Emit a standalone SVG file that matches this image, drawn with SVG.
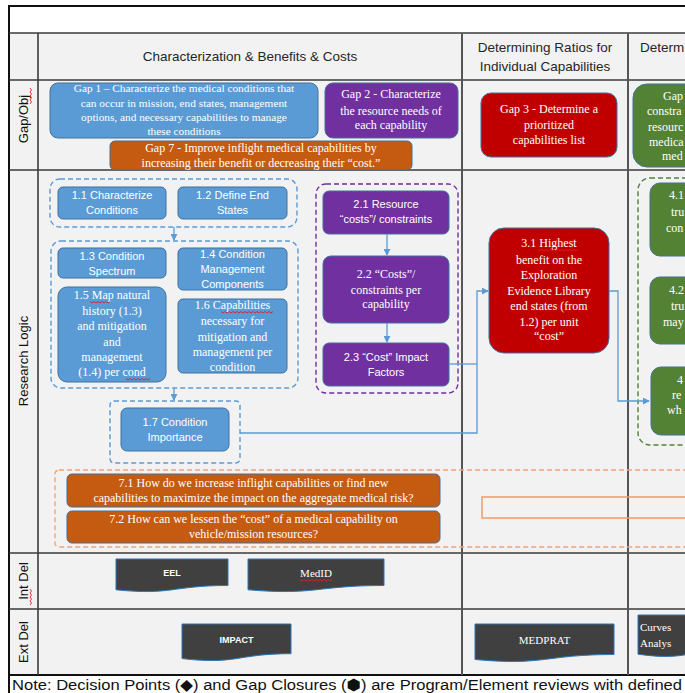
<svg xmlns="http://www.w3.org/2000/svg" width="685" height="693" viewBox="0 0 685 693">
<style>
.grid{stroke:#3a3a3a;stroke-width:1.6;fill:none}
.hdr{font-family:"Liberation Sans",Arial,sans-serif;font-size:13.5px;fill:#262626}
.lbl{font-family:"Liberation Sans",Arial,sans-serif;font-size:13px;fill:#111}
.sw{font-family:"Liberation Sans",Arial,sans-serif;font-size:11px;fill:#fff;text-anchor:middle}
.rw{font-family:"Liberation Serif","Times New Roman",serif;font-size:12px;fill:#fff;text-anchor:middle}
.rw11{font-family:"Liberation Serif","Times New Roman",serif;font-size:11.3px;fill:#fff;text-anchor:middle}
.rws{font-family:"Liberation Serif","Times New Roman",serif;font-size:12px;fill:#fff}
.blue{fill:#5b9bd5;stroke:#41719c;stroke-width:1}
.purple{fill:#7030a0;stroke:#41719c;stroke-width:1}
.red{fill:#c00000;stroke:#41719c;stroke-width:1}
.green{fill:#548235;stroke:#41719c;stroke-width:1}
.orange{fill:#c55a11;stroke:#41719c;stroke-width:1}
.doc{fill:#404040;stroke:#2e75b6;stroke-width:1}
.dsw{font-family:"Liberation Sans",Arial,sans-serif;font-size:9px;font-weight:bold;fill:#fff;text-anchor:middle}
.dsr{font-family:"Liberation Serif","Times New Roman",serif;font-size:11px;fill:#fff}
.dash{fill:none;stroke-width:1.4;stroke-dasharray:5 3}
.conn{fill:none;stroke:#5b9bd5;stroke-width:1.3}
.sq{fill:none;stroke:#e02020;stroke-width:0.9}
</style>
<defs>
<marker id="arr" viewBox="0 0 8 8" refX="7" refY="4" markerWidth="7" markerHeight="7" markerUnits="userSpaceOnUse" orient="auto">
<path d="M0,0 L8,4 L0,8 Z" fill="#5b9bd5"/>
</marker>
</defs>

<!-- table background -->
<rect x="0" y="0" width="685" height="693" fill="#ffffff"/>
<rect x="9" y="33" width="680" height="642" fill="#f2f2f2"/>
<g id="table">
<rect x="9" y="6" width="690" height="700" class="grid" style="stroke:#111;stroke-width:2"/>
<line x1="9" y1="33" x2="685" y2="33" class="grid"/>
<line x1="9" y1="80" x2="685" y2="80" class="grid"/>
<line x1="9" y1="170" x2="685" y2="170" class="grid"/>
<line x1="9" y1="553" x2="685" y2="553" class="grid"/>
<line x1="9" y1="609" x2="685" y2="609" class="grid"/>
<line x1="9" y1="675" x2="685" y2="675" class="grid" style="stroke:#111;stroke-width:2"/>
<line x1="38" y1="33" x2="38" y2="675" class="grid"/>
<line x1="462" y1="33" x2="462" y2="675" class="grid" style="stroke:#555;stroke-width:2"/>
<line x1="628" y1="33" x2="628" y2="675" class="grid" style="stroke:#555;stroke-width:2"/>
</g>

<g id="headers">
<text class="hdr" x="250" y="61" text-anchor="middle">Characterization &amp; Benefits &amp; Costs</text>
<text class="hdr" x="545" y="52" text-anchor="middle">Determining Ratios for</text>
<text class="hdr" x="545" y="71" text-anchor="middle">Individual Capabilities</text>
<text class="hdr" x="640" y="52">Determ</text>
</g>

<g id="row-labels">
<text class="lbl" transform="rotate(-90 23 119)" x="23" y="119" text-anchor="middle" dominant-baseline="central">Gap/Obj</text>
<text class="lbl" transform="rotate(-90 23 361)" x="23" y="361" text-anchor="middle" dominant-baseline="central">Research Logic</text>
<text class="lbl" transform="rotate(-90 23 581)" x="23" y="581" text-anchor="middle" dominant-baseline="central">Int Del</text>
<text class="lbl" transform="rotate(-90 23 642)" x="23" y="642" text-anchor="middle" dominant-baseline="central">Ext Del</text>
</g>

<!-- Gap row -->
<g id="gap1">
<rect x="50" y="83" width="268" height="55" rx="8" class="blue"/>
<text class="rw11" x="184" y="92">Gap 1 – Characterize the medical conditions that</text>
<text class="rw11" x="184" y="107">can occur in mission, end states, management</text>
<text class="rw11" x="184" y="121">options, and necessary capabilities to manage</text>
<text class="rw11" x="184" y="135">these conditions</text>
</g>
<g id="gap2">
<rect x="325" y="83" width="133" height="55" rx="8" class="purple"/>
<text class="rw" x="391" y="98">Gap 2 - Characterize</text>
<text class="rw" x="391" y="115">the resource needs of</text>
<text class="rw" x="391" y="129">each capability</text>
</g>
<g id="gap7">
<rect x="110" y="141" width="302" height="29" rx="5" class="orange"/>
<text class="rw" x="261" y="152">Gap 7 - Improve inflight medical capabilities by</text>
<text class="rw" x="261" y="167">increasing their benefit or decreasing their “cost.”</text>
</g>
<g id="gap3">
<rect x="481" y="93" width="136" height="64" rx="10" class="red"/>
<text class="rw" x="549" y="113">Gap 3 - Determine a</text>
<text class="rw" x="549" y="129">prioritized</text>
<text class="rw" x="549" y="144">capabilities list</text>
</g>
<g id="gap4">
<rect x="633" y="84" width="120" height="83" rx="14" class="green"/>
<text class="rws" x="663" y="100">Gap</text>
<text class="rws" x="647" y="115">constra</text>
<text class="rws" x="648" y="131">resourc</text>
<text class="rws" x="649" y="146">medica</text>
<text class="rws" x="662" y="160">med</text>
</g>

<!-- Research logic containers -->
<g id="group-1a"><rect x="50" y="179" width="247" height="48" rx="10" class="dash" stroke="#5b9bd5"/></g>
<g id="group-1b"><rect x="51" y="241" width="247" height="147" rx="10" class="dash" stroke="#5b9bd5"/></g>
<g id="group-1c"><rect x="110" y="401" width="130" height="62" rx="4" class="dash" stroke="#5b9bd5"/></g>
<g id="group-2"><rect x="316" y="184" width="142" height="209" rx="10" class="dash" stroke="#7030a0"/></g>
<g id="group-4"><rect x="638" y="178" width="80" height="267" rx="12" class="dash" stroke="#548235"/></g>
<g id="group-7"><rect x="55" y="470" width="650" height="77" rx="4" class="dash" stroke="#f4a574"/></g>

<g id="n11">
<rect x="58" y="187" width="108" height="32" rx="5" class="blue"/>
<text class="sw" x="112" y="199">1.1 Characterize</text>
<text class="sw" x="112" y="214">Conditions</text>
</g>
<g id="n12">
<rect x="178" y="187" width="109" height="32" rx="5" class="blue"/>
<text class="sw" x="232.5" y="199">1.2 Define End</text>
<text class="sw" x="232.5" y="214">States</text>
</g>
<g id="n13">
<rect x="58" y="248" width="108" height="30" rx="5" class="blue"/>
<text class="sw" x="112" y="259.5">1.3 Condition</text>
<text class="sw" x="112" y="274.5">Spectrum</text>
</g>
<g id="n14">
<rect x="178" y="248" width="109" height="42" rx="5" class="blue"/>
<text class="sw" x="232.5" y="258">1.4 Condition</text>
<text class="sw" x="232.5" y="273">Management</text>
<text class="sw" x="232.5" y="288">Components</text>
</g>
<g id="n15">
<rect x="58" y="287" width="108" height="95" rx="9" class="blue"/>
<text class="rw" x="112" y="299">1.5 Map natural</text>
<text class="rw" x="112" y="315">history (1.3)</text>
<text class="rw" x="112" y="330">and mitigation</text>
<text class="rw" x="112" y="346">and</text>
<text class="rw" x="112" y="361">management</text>
<text class="rw" x="112" y="376">(1.4) per cond</text>
</g>
<g id="n16">
<rect x="178" y="299" width="109" height="74" rx="5" class="blue"/>
<text class="rw" x="232.5" y="309">1.6 Capabilities</text>
<text class="rw" x="232.5" y="325">necessary for</text>
<text class="rw" x="232.5" y="341">mitigation and</text>
<text class="rw" x="232.5" y="356">management per</text>
<text class="rw" x="232.5" y="371">condition</text>
</g>
<g id="n17">
<rect x="121" y="408" width="108" height="43" rx="6" class="blue"/>
<text class="sw" x="175" y="426">1.7 Condition</text>
<text class="sw" x="175" y="441">Importance</text>
</g>
<g id="n21">
<rect x="323" y="191" width="126" height="43" rx="6" class="purple"/>
<text class="sw" x="386" y="208">2.1 Resource</text>
<text class="sw" x="386" y="223">“costs”/ constraints</text>
</g>
<g id="n22">
<rect x="323" y="256" width="126" height="67" rx="8" class="purple"/>
<text class="rw" x="386" y="278">2.2 “Costs”/</text>
<text class="rw" x="386" y="294">constraints per</text>
<text class="rw" x="386" y="308">capability</text>
</g>
<g id="n23">
<rect x="323" y="343" width="126" height="43" rx="6" class="purple"/>
<text class="sw" x="386" y="361">2.3 “Cost” Impact</text>
<text class="sw" x="386" y="376">Factors</text>
</g>
<g id="n31">
<rect x="489" y="228" width="120" height="125" rx="15" class="red"/>
<text class="rw" x="549" y="247">3.1 Highest</text>
<text class="rw" x="549" y="264">benefit on the</text>
<text class="rw" x="549" y="279">Exploration</text>
<text class="rw" x="549" y="295">Evidence Library</text>
<text class="rw" x="549" y="310">end states (from</text>
<text class="rw" x="549" y="326">1.2) per unit</text>
<text class="rw" x="549" y="340">“cost”</text>
</g>
<g id="n41">
<rect x="650" y="183" width="80" height="73" rx="10" class="green"/>
<text class="rws" x="669" y="199">4.1</text>
<text class="rws" x="671" y="216">tru</text>
<text class="rws" x="666" y="232">con</text>
</g>
<g id="n42">
<rect x="650" y="277" width="80" height="67" rx="10" class="green"/>
<text class="rws" x="669" y="294">4.2</text>
<text class="rws" x="671" y="310">tru</text>
<text class="rws" x="663" y="326">may</text>
</g>
<g id="n43">
<rect x="651" y="367" width="80" height="68" rx="10" class="green"/>
<text class="rws" x="677" y="384">4</text>
<text class="rws" x="672" y="399">re</text>
<text class="rws" x="667" y="414">wh</text>
</g>
<g id="n71">
<rect x="67" y="474" width="373" height="33" rx="5" class="orange"/>
<text class="rw" x="253.5" y="487">7.1 How do we increase inflight capabilities or find new</text>
<text class="rw" x="253.5" y="502">capabilities to maximize the impact on the aggregate medical risk?</text>
</g>
<g id="n72">
<rect x="67" y="511" width="373" height="32" rx="5" class="orange"/>
<text class="rw" x="253.5" y="523">7.2 How can we lessen the “cost” of a medical capability on</text>
<text class="rw" x="253.5" y="538">vehicle/mission resources?</text>
</g>
<g id="n7x">
<rect x="482" y="497" width="220" height="21" fill="none" stroke="#f19c65" stroke-width="1.5"/>
</g>

<!-- deliverables -->
<g id="eel">
<path class="doc" d="M116,559 H228 V585.5 C172,585.5 172,595.5 116,589.8 Z"/>
<text class="dsw" x="172" y="576">EEL</text>
</g>
<g id="medid">
<path class="doc" d="M248,559 H384 V585.5 C316,585.5 316,595.5 248,589.8 Z"/>
<text class="dsr" x="316" y="577" text-anchor="middle">MedID</text>
</g>
<g id="impact">
<path class="doc" d="M182,624 H291 V653.7 C236.5,653.7 236.5,665 182,658.6 Z"/>
<text class="dsw" x="236.5" y="643">IMPACT</text>
</g>
<g id="medprat">
<path class="doc" d="M475,624 H614 V654.5 C544.5,654.5 544.5,666 475,659.5 Z"/>
<text class="dsr" x="544.5" y="644" text-anchor="middle">MEDPRAT</text>
</g>
<g id="curves">
<path class="doc" d="M638,615 H740 V648.7 C689,648.7 689,661.5 638,654.2 Z"/>
<text class="dsr" x="640" y="631">Curves</text>
<text class="dsr" x="640" y="647">Analys</text>
</g>

<!-- connectors -->
<g id="connectors">
<line class="conn" x1="174" y1="227" x2="174" y2="240" marker-end="url(#arr)"/>
<line class="conn" x1="174" y1="388" x2="174" y2="400" marker-end="url(#arr)"/>
<line class="conn" x1="387" y1="234" x2="387" y2="255" marker-end="url(#arr)"/>
<line class="conn" x1="387" y1="323" x2="387" y2="342" marker-end="url(#arr)"/>
<polyline class="conn" points="240,433 477,433 477,291 488,291" marker-end="url(#arr)"/>
<line class="conn" x1="449" y1="364" x2="477" y2="364"/>
<polyline class="conn" points="609,291 618,291 618,401 649,401" marker-end="url(#arr)"/>
</g>

<!-- spelling marks -->
<g id="marks">
<path class="sq" d="M90,301.5 l2,1.5 l2,-1.5 l2,1.5 l2,-1.5 l2,1.5 l2,-1.5 l2,1.5 l2,-1.5 l2,1.5 l2,-1.5"/>
<path class="sq" d="M126,378.5 l2,1.5 l2,-1.5 l2,1.5 l2,-1.5 l2,1.5 l2,-1.5 l2,1.5 l2,-1.5 l2,1.5 l2,-1.5 l2,1.5 l2,-1.5"/>
<path class="sq" d="M221,311.5 l2,1.5 l2,-1.5 l2,1.5 l2,-1.5 l2,1.5 l2,-1.5 l2,1.5 l2,-1.5 l2,1.5 l2,-1.5 l2,1.5 l2,-1.5 l2,1.5 l2,-1.5 l2,1.5 l2,-1.5 l2,1.5 l2,-1.5 l2,1.5 l2,-1.5 l2,1.5 l2,-1.5 l2,1.5 l2,-1.5 l2,1.5 l2,-1.5"/>
<path class="sq" d="M538,249.5 l2,1.5 l2,-1.5 l2,1.5 l2,-1.5 l2,1.5 l2,-1.5 l2,1.5 l2,-1.5 l2,1.5 l2,-1.5 l2,1.5 l2,-1.5 l2,1.5 l2,-1.5 l2,1.5 l2,-1.5 l2,1.5 l2,-1.5 l2,1.5 l2,-1.5"/>
<path class="sq" d="M300,579.5 l2,1.5 l2,-1.5 l2,1.5 l2,-1.5 l2,1.5 l2,-1.5 l2,1.5 l2,-1.5 l2,1.5 l2,-1.5 l2,1.5 l2,-1.5 l2,1.5 l2,-1.5 l2,1.5 l2,-1.5"/>
<path class="sq" d="M30,88 l1.5,2 l-1.5,2 l1.5,2 l-1.5,2 l1.5,2 l-1.5,2 l1.5,2 l-1.5,2"/>
<path class="sq" d="M30,589 l1.5,2 l-1.5,2 l1.5,2 l-1.5,2 l1.5,2 l-1.5,2 l1.5,2 l-1.5,2"/>
</g>

<g id="note">
<text x="12" y="690" font-family="'Liberation Sans','DejaVu Sans',Arial,sans-serif" font-size="15.5" fill="#111" textLength="670" lengthAdjust="spacingAndGlyphs">Note: Decision Points (◆) and Gap Closures (⬢) are Program/Element reviews with defined</text>
</g>
</svg>
